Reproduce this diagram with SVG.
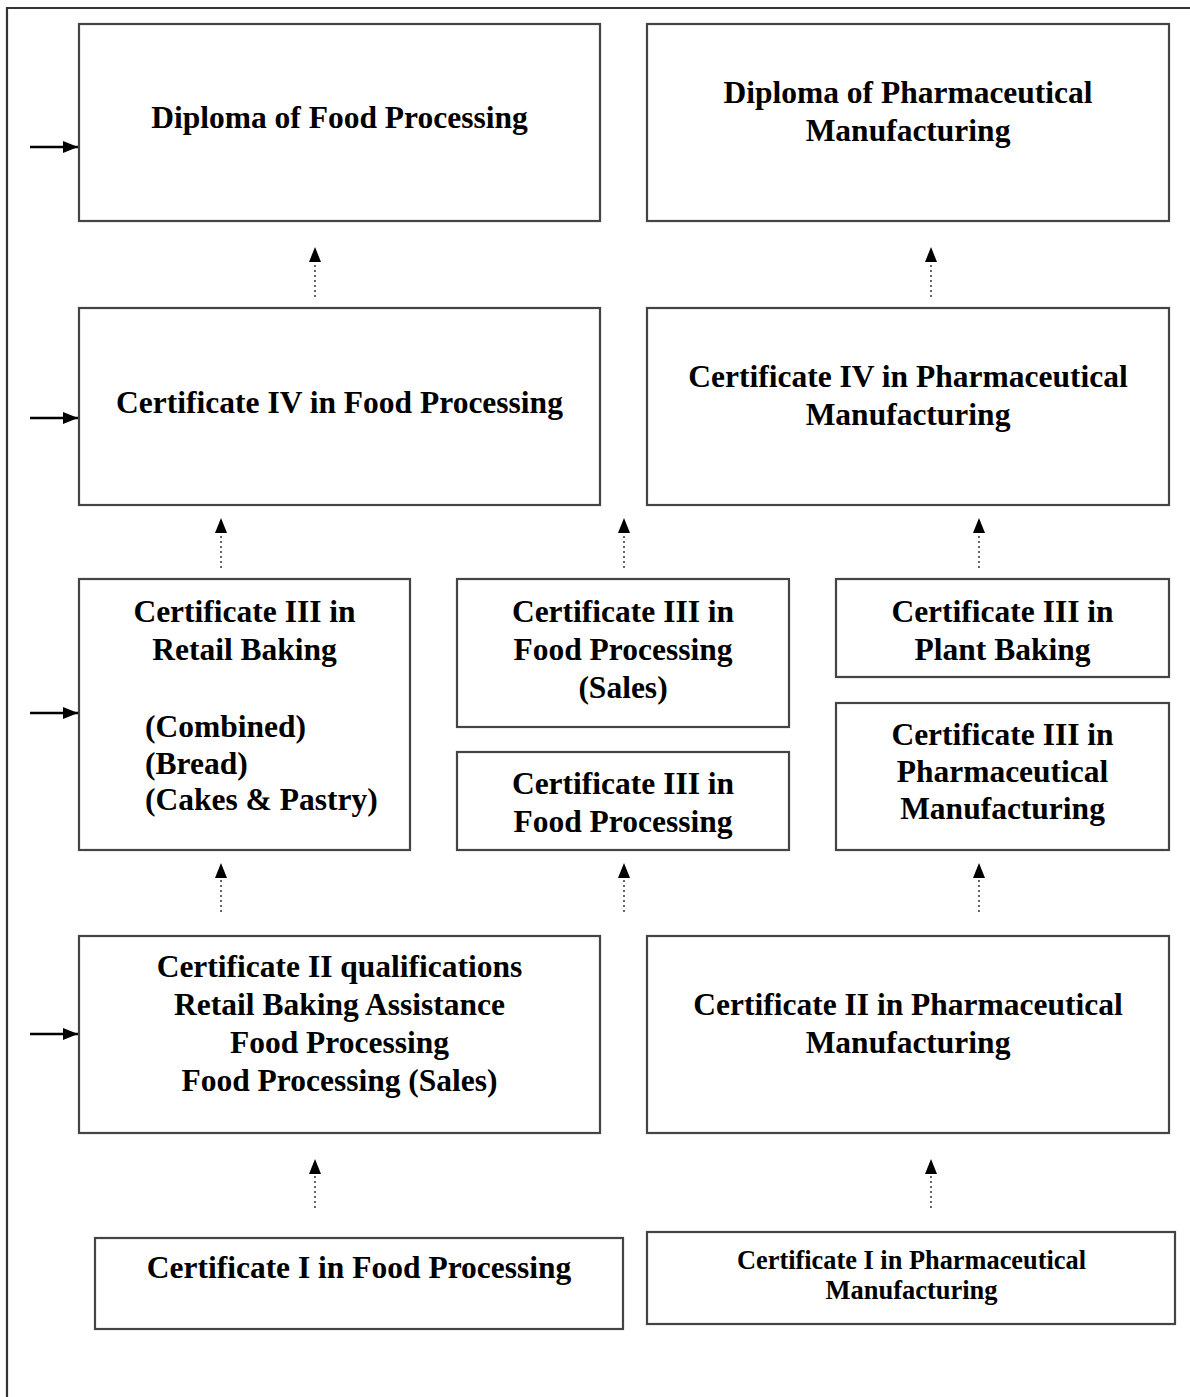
<svg xmlns="http://www.w3.org/2000/svg" width="1190" height="1397" viewBox="0 0 1190 1397">
<style>
.box{fill:#fff;stroke:#444;stroke-width:2.2}
.t{font-family:"Liberation Serif","Times New Roman",serif;font-weight:bold;font-size:31.5px;fill:#000;text-anchor:middle}
.tl{text-anchor:start}
.small{font-size:28px}
.dot{stroke:#666;stroke-width:2;stroke-dasharray:2 3;fill:none}
.solid{stroke:#000;stroke-width:2.5;fill:none}
</style>
<defs>
<marker id="ah" markerUnits="userSpaceOnUse" markerWidth="16" markerHeight="14" refX="15" refY="6" orient="auto">
<path d="M0,0 L15,6 L0,12 z" fill="#000"/>
</marker>
</defs>
<rect width="1190" height="1397" fill="#fff"/>
<g id="frame">
<path d="M7,1397 V8 H1190" fill="none" stroke="#333" stroke-width="2.2"/>
</g>
<g id="connectors">
<line class="solid" x1="30" y1="147" x2="78" y2="147" marker-end="url(#ah)"/>
<line class="solid" x1="30" y1="418" x2="78" y2="418" marker-end="url(#ah)"/>
<line class="solid" x1="30" y1="713" x2="78" y2="713" marker-end="url(#ah)"/>
<line class="solid" x1="30" y1="1034" x2="78" y2="1034" marker-end="url(#ah)"/>
<line class="dot" x1="315" y1="297" x2="315" y2="247" marker-end="url(#ah)"/>
<line class="dot" x1="931" y1="297" x2="931" y2="247" marker-end="url(#ah)"/>
<line class="dot" x1="221" y1="568" x2="221" y2="518" marker-end="url(#ah)"/>
<line class="dot" x1="624" y1="568" x2="624" y2="518" marker-end="url(#ah)"/>
<line class="dot" x1="979" y1="568" x2="979" y2="518" marker-end="url(#ah)"/>
<line class="dot" x1="221" y1="912" x2="221" y2="863" marker-end="url(#ah)"/>
<line class="dot" x1="624" y1="912" x2="624" y2="863" marker-end="url(#ah)"/>
<line class="dot" x1="979" y1="912" x2="979" y2="863" marker-end="url(#ah)"/>
<line class="dot" x1="315" y1="1208" x2="315" y2="1159" marker-end="url(#ah)"/>
<line class="dot" x1="931" y1="1208" x2="931" y2="1159" marker-end="url(#ah)"/>
</g>
<g id="diploma-food">
<rect class="box" x="79" y="24" width="521" height="197"/>
<text class="t" x="339.5" y="128">Diploma of Food Processing</text>
</g>
<g id="diploma-pharma">
<rect class="box" x="647" y="24" width="522" height="197"/>
<text class="t" x="908" y="103">Diploma of Pharmaceutical</text>
<text class="t" x="908" y="141">Manufacturing</text>
</g>
<g id="cert4-food">
<rect class="box" x="79" y="308" width="521" height="197"/>
<text class="t" x="339.5" y="413">Certificate IV in Food Processing</text>
</g>
<g id="cert4-pharma">
<rect class="box" x="647" y="308" width="522" height="197"/>
<text class="t" x="908" y="387">Certificate IV in Pharmaceutical</text>
<text class="t" x="908" y="425">Manufacturing</text>
</g>
<g id="cert3-retail">
<rect class="box" x="79" y="579" width="331" height="271"/>
<text class="t" x="244.5" y="622">Certificate III in</text>
<text class="t" x="244.5" y="660">Retail Baking</text>
<text class="t tl" x="145" y="737">(Combined)</text>
<text class="t tl" x="145" y="774">(Bread)</text>
<text class="t tl" x="145" y="810">(Cakes &amp; Pastry)</text>
</g>
<g id="cert3-food-sales">
<rect class="box" x="457" y="579" width="332" height="148"/>
<text class="t" x="623" y="622">Certificate III in</text>
<text class="t" x="623" y="660">Food Processing</text>
<text class="t" x="623" y="698">(Sales)</text>
</g>
<g id="cert3-food">
<rect class="box" x="457" y="752" width="332" height="98"/>
<text class="t" x="623" y="794">Certificate III in</text>
<text class="t" x="623" y="832">Food Processing</text>
</g>
<g id="cert3-plant">
<rect class="box" x="836" y="579" width="333" height="98"/>
<text class="t" x="1002.5" y="622">Certificate III in</text>
<text class="t" x="1002.5" y="660">Plant Baking</text>
</g>
<g id="cert3-pharma">
<rect class="box" x="836" y="703" width="333" height="147"/>
<text class="t" x="1002.5" y="745">Certificate III in</text>
<text class="t" x="1002.5" y="782">Pharmaceutical</text>
<text class="t" x="1002.5" y="819">Manufacturing</text>
</g>
<g id="cert2-food">
<rect class="box" x="79" y="936" width="521" height="197"/>
<text class="t" x="339.5" y="977">Certificate II qualifications</text>
<text class="t" x="339.5" y="1015">Retail Baking Assistance</text>
<text class="t" x="339.5" y="1053">Food Processing</text>
<text class="t" x="339.5" y="1091">Food Processing (Sales)</text>
</g>
<g id="cert2-pharma">
<rect class="box" x="647" y="936" width="522" height="197"/>
<text class="t" x="908" y="1015">Certificate II in Pharmaceutical</text>
<text class="t" x="908" y="1053">Manufacturing</text>
</g>
<g id="cert1-food">
<rect class="box" x="95" y="1238" width="528" height="91"/>
<text class="t" x="359" y="1278">Certificate I in Food Processing</text>
</g>
<g id="cert1-pharma">
<rect class="box" x="647" y="1232" width="528" height="92"/>
<text class="t small" x="911.5" y="1269" textLength="349" lengthAdjust="spacingAndGlyphs">Certificate I in Pharmaceutical</text>
<text class="t small" x="911.5" y="1299" textLength="172" lengthAdjust="spacingAndGlyphs">Manufacturing</text>
</g>
</svg>
